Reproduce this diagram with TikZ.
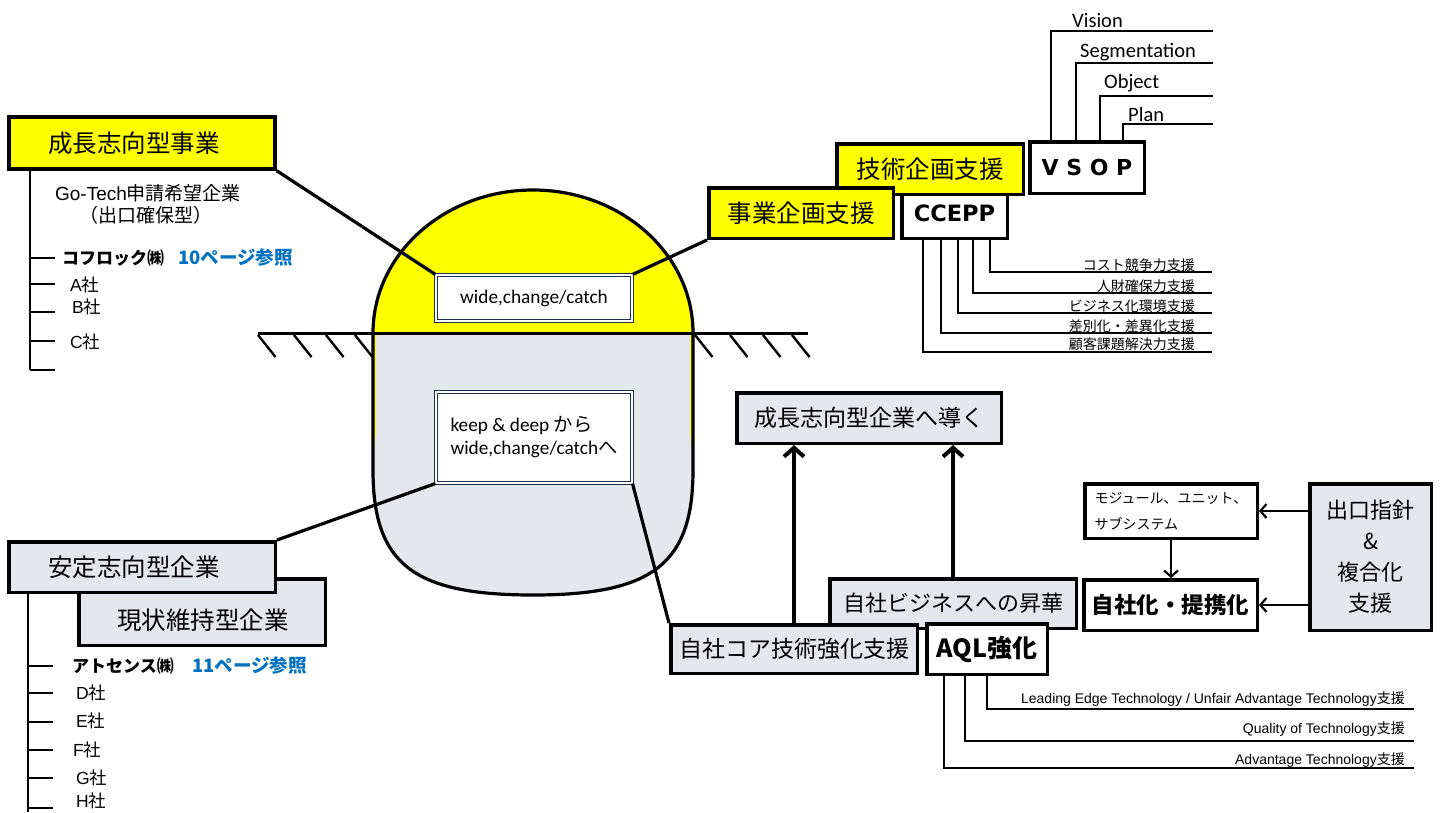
\documentclass[tikz,border=0pt]{standalone}
\usepackage{fontspec}
\setmainfont{Noto Sans CJK JP}
\newfontfamily\jpf{Noto Sans CJK JP}
\newfontfamily\arf{Liberation Sans}
\newfontfamily\cbf{Carlito}
\newfontfamily\dvf{DejaVu Sans}
\usetikzlibrary{arrows.meta,calc}
\definecolor{boxyellow}{HTML}{FFFF00}
\definecolor{boxgrey}{HTML}{E4E7EB}
\definecolor{refblue}{HTML}{0070C0}
\definecolor{navyline}{HTML}{1F2D4D}
\newcommand\fsz[1]{\fontsize{#1}{#1}\selectfont}
\tikzset{
  box/.style={draw=black, line width=3.5pt, inner sep=0pt, align=center, text=black},
  ybox/.style={box, fill=boxyellow},
  gbox/.style={box, fill=boxgrey},
  wbox/.style={box, fill=white},
  dbox/.style={draw=navyline, double=white, line width=1pt, double distance=2pt, fill=white, inner sep=0pt, align=left},
  link/.style={line width=3.2pt},
  treeline/.style={line width=2.4pt},
  branch/.style={line width=2pt},
  fineline/.style={line width=1.5pt},
  uparrow/.style={line width=4pt, -{Straight Barb[length=9pt,width=20pt]}},
  sidearrow/.style={line width=2.2pt, -{Straight Barb[length=6pt,width=14pt]}},
  lbl/.style={inner sep=0pt, text=black},
}
\begin{document}
\begin{tikzpicture}[x=1pt,y=-1pt]
\useasboundingbox (0,0) rectangle (1441,812);

% ---- the dome: yellow cap above ground, grey body below ----
\path[fill=boxyellow] (373,333) .. controls (373,254) and (444.6,190) .. (533,190)
  .. controls (621.4,190) and (693,254) .. (693,333) -- (693,470)
  .. controls (693,563.75) and (653,595) .. (533,595)
  .. controls (413,595) and (373,563.75) .. (373,470) -- cycle;
\path[fill=boxgrey] (376,333) -- (690,333) -- (690,430) -- (693,460) -- (693,470)
  .. controls (693,563.75) and (653,595) .. (533,595)
  .. controls (413,595) and (373,563.75) .. (373,470) -- (373,460) -- (376,430) -- cycle;
% ground line with hatching
\draw[line width=3pt] (258,333) -- (808,333);
\foreach \x in {258,294,326,355,695,730,763,792}
  \draw[line width=2.4pt] (\x,335) -- ++(17.5,22);
\draw[line width=3.2pt] (373,333) .. controls (373,254) and (444.6,190) .. (533,190)
  .. controls (621.4,190) and (693,254) .. (693,333) -- (693,470)
  .. controls (693,563.75) and (653,595) .. (533,595)
  .. controls (413,595) and (373,563.75) .. (373,470) -- cycle;

% ---- boxes inside the dome ----
\node[dbox, minimum width=196pt, minimum height=46pt, align=center, font=\cbf\fsz{19.3}] (wide) at (534,298) {wide,change/catch};
\node[dbox, minimum width=196pt, minimum height=91pt, font=\cbf\fontsize{19.3}{23}\selectfont] (keep) at (534,437.5) {keep \& deep {\jpf から}\\wide,change/catch{\jpf へ}};

% ---- VSOP branches ----
\node[wbox, minimum width=114.5pt, minimum height=51.5pt, font=\dvf\bfseries\fsz{22}] (vsop) at (1087,167.5) {V S O P};
\foreach \x/\y in {1051/31,1076/63,1100/96,1123/124}
  \draw[branch] (vsop.north -| \x,0) -- (\x,\y) -- (1213,\y);
\node[lbl, anchor=base west, font=\cbf\fsz{20.5}] (vis) at (1072,27) {Vision};
\node[lbl, anchor=base west, font=\cbf\fsz{20.5}] (seg) at (1080,57) {Segmentation};
\node[lbl, anchor=base west, font=\cbf\fsz{20.5}] (obj) at (1104,88) {Object};
\node[lbl, anchor=base west, font=\cbf\fsz{20.5}] (pln) at (1128,121) {Plan};

% ---- CCEPP branches ----
\node[wbox, minimum width=105.5pt, minimum height=49.5pt, font=\dvf\bfseries\fsz{22.5}] (ccepp) at (954.5,213.5) {CCEPP};
\foreach \x/\y in {923/352,941/333,958/313,973/293,990/272}
  \draw[fineline] (ccepp.south -| \x,0) -- (\x,\y) -- (1212,\y);
\node[lbl, anchor=east, font=\fsz{14}] (c1) at (1195,265) {コスト競争力支援};
\node[lbl, anchor=east, font=\fsz{14}] (c2) at (1195,286) {人財確保力支援};
\node[lbl, anchor=east, font=\fsz{14}] (c3) at (1195,306) {ビジネス化環境支援};
\node[lbl, anchor=east, font=\fsz{14}] (c4) at (1195,326) {差別化・差異化支援};
\node[lbl, anchor=east, font=\fsz{14}] (c5) at (1195,344) {顧客課題解決力支援};

% ---- yellow planning boxes ----
\node[ybox, minimum width=186.5pt, minimum height=50.5pt, font=\fsz{24.5}] (tech) at (930,169) {技術企画支援};
\node[ybox, minimum width=184.5pt, minimum height=50.5pt, font=\fsz{24.5}] (biz) at (801,213) {事業企画支援};
\node[ybox, minimum width=266pt, minimum height=52pt, font=\fsz{24.5}] (grow) at (142,143) {成長志向型事業\hspace*{16pt}};

% ---- growth-oriented list ----
\coordinate (gtEnd) at (30,370);
\draw[treeline] (grow.south -| gtEnd) -- (gtEnd);
\foreach \y in {258,284,312,341,370}
  \draw[treeline] (30,\y) -- (55,\y);
\node[lbl, font=\fsz{19}] (gotech) at (148,193) {{\arf Go-Tech}申請希望企業};
\node[lbl, font=\fsz{19}] (deguchi) at (146,215) {（出口確保型）};
\node[lbl, anchor=west, font=\bfseries\fsz{17}] (kofu) at (62,258) {コフロック㈱};
\node[lbl, anchor=west, font=\bfseries\fsz{18.5}, text=refblue] (p10) at (178,258) {10ページ参照};
\node[lbl, anchor=west, font=\fsz{17.5}] (ca) at (70,285) {{\arf A}社};
\node[lbl, anchor=west, font=\fsz{17.5}] (cb) at (72,307) {{\arf B}社};
\node[lbl, anchor=west, font=\fsz{17.5}] (cc) at (70,342) {{\arf C}社};

% ---- stability-oriented boxes and list ----
\node[gbox, minimum width=246.5pt, minimum height=66.5pt] (maint) at (202,612) {};
\node[lbl, font=\fsz{24.5}] (mainttxt) at (203,620) {現状維持型企業};
\node[gbox, minimum width=266.5pt, minimum height=50.5pt, font=\fsz{24.5}] (stable) at (142,567) {安定志向型企業\hspace*{16pt}};
\coordinate (stEnd) at (28,812);
\draw[treeline] (stable.south -| stEnd) -- (stEnd);
\foreach \y in {666,693,722,750,778,808}
  \draw[treeline] (28,\y) -- (53,\y);
\node[lbl, anchor=west, font=\bfseries\fsz{17}] (atos) at (72,666) {アトセンス㈱};
\node[lbl, anchor=west, font=\bfseries\fsz{18.5}, text=refblue] (p11) at (192,666) {11ページ参照};
\node[lbl, anchor=west, font=\fsz{17.5}] (cd) at (76,693) {{\arf D}社};
\node[lbl, anchor=west, font=\fsz{17.5}] (ce) at (76,721) {{\arf E}社};
\node[lbl, anchor=west, font=\fsz{17.5}] (cf) at (73,750) {{\arf F}社};
\node[lbl, anchor=west, font=\fsz{17.5}] (cg) at (76,778) {{\arf G}社};
\node[lbl, anchor=west, font=\fsz{17.5}] (ch) at (76,801) {{\arf H}社};

% ---- lower right flow ----
\node[gbox, minimum width=264.5pt, minimum height=50.5pt, font=\fsz{23}] (lead) at (869,418) {成長志向型企業へ導く};
\node[gbox, minimum width=246.5pt, minimum height=49.5pt, font=\fsz{22}] (sub) at (953,603.5) {自社ビジネスへの昇華};
\node[gbox, minimum width=246.5pt, minimum height=48.5pt, font=\fsz{23}] (core) at (794,649) {自社コア技術強化支援};
\node[wbox, minimum width=120.5pt, minimum height=50.5pt, font=\bfseries\fsz{25}] (aql) at (987,649) {AQL強化};
\foreach \x/\y in {944/768,965/741,987/709}
  \draw[branch] (aql.south -| \x,0) -- (\x,\y) -- (1414,\y);
\node[lbl, anchor=east, font=\arf\fsz{14}] (a1) at (1405,699) {Leading Edge Technology / Unfair Advantage Technology{\jpf 支援}};
\node[lbl, anchor=east, font=\arf\fsz{14}] (a2) at (1405,729) {Quality of Technology{\jpf 支援}};
\node[lbl, anchor=east, font=\arf\fsz{14}] (a3) at (1405,760) {Advantage Technology{\jpf 支援}};

\node[wbox, minimum width=172.5pt, minimum height=54.5pt, align=left, font=\fontsize{14}{26}\selectfont] (mod) at (1171,511) {モジュール、ユニット、\\サブシステム};
\node[wbox, minimum width=173.5pt, minimum height=50.5pt, font=\bfseries\fsz{22.5}] (self) at (1170.5,605) {自社化・提携化};
\node[gbox, minimum width=121.5pt, minimum height=146.5pt, font=\fontsize{22}{31}\selectfont] (exit) at (1370.5,557) {出口指針\\\&\\複合化\\支援};

% ---- connectors ----
\draw[link] (wide.north west) -- (grow.south east);
\draw[link] (wide.north east) -- (biz.south west);
\draw[link] (keep.south west) -- (stable.north east);
\draw[link] (keep.south east) -- (core.north west);
\draw[uparrow] (core.north) -- (core.north |- lead.south);
\draw[uparrow] (sub.north) -- (sub.north |- lead.south);
\draw[sidearrow] (mod.east -| exit.west) -- (mod.east);
\draw[sidearrow] (self.east -| exit.west) -- (self.east);
\draw[sidearrow] (mod.south) -- (mod.south |- self.north);
\end{tikzpicture}
\end{document}
